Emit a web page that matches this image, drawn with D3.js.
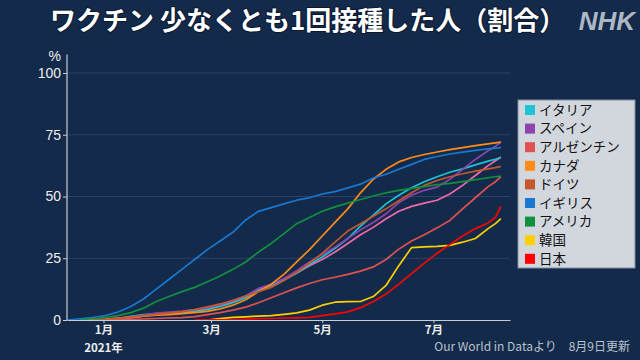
<!DOCTYPE html>
<html>
<head>
<meta charset="utf-8">
<script src="https://cdn.jsdelivr.net/npm/d3@7"></script>
<style>
  html, body { margin: 0; padding: 0; background: #132a4a; }
  svg { display: block; }
  text { font-family: "Noto Sans CJK JP", "Noto Sans", sans-serif; }
</style>
</head>
<body>
<svg id="chart" width="640" height="360"></svg>
<script>
// ---- data (percent of population with at least one dose) ----
const dates = ["2020-12-12","2020-12-19","2020-12-26","2021-01-02","2021-01-09","2021-01-16","2021-01-23","2021-01-30",
  "2021-02-06","2021-02-13","2021-02-20","2021-02-27","2021-03-06","2021-03-13","2021-03-20","2021-03-27",
  "2021-04-03","2021-04-10","2021-04-17","2021-04-24","2021-05-01","2021-05-08","2021-05-15","2021-05-22",
  "2021-05-29","2021-06-05","2021-06-12","2021-06-19","2021-06-26","2021-07-03","2021-07-10","2021-07-17",
  "2021-07-24","2021-07-31","2021-08-04","2021-08-07"];

const france    = [null,null,0.0,0.0,0.2,0.8,1.6,2.3,2.8,3.3,4.0,4.8,6.0,7.5,9.5,12,14,16.3,19,22,24.5,27.5,31,34.5,37.5,41,44,46,47.3,48.5,51,54.5,58.5,62.5,64.5,66];
const italy     = [null,null,0.0,0.1,0.6,1.5,2.2,2.5,2.7,3.0,3.5,4.2,5.5,7,9,12,14.2,16.2,19,22.5,25.5,29,33,38,42.5,47,50.5,53.5,56,58,59.8,61.2,62.8,64.3,65.1,65.8];
const spain     = [null,null,0.0,0.1,0.4,1.2,2.0,2.8,3.2,3.6,4.2,5.0,6.2,7.8,9.8,12.8,14.5,16.8,20,23.5,26.5,29.5,33,36.5,39.5,43,47.5,50.5,52.5,53.8,57,61,65,68.5,70.3,72];
const argentina = [null,null,null,0.05,0.1,0.2,0.4,0.6,0.8,1.0,1.4,2.2,3.0,4.0,5.2,7,9,11,13,14.8,16.3,17.3,18.5,19.8,21.5,24.5,28.7,32,34.5,37.3,40.3,45,49.5,54,56,58];
const canada    = [null,0.1,0.2,0.4,0.8,1.2,1.6,2.0,2.2,2.6,3.0,3.5,4.5,6.0,8.2,11.5,14.5,18.5,23.5,28.5,34,39.5,45,51.5,57,61,64,65.8,67,68,69,69.8,70.6,71.3,71.7,72];
const germany   = [null,null,0.0,0.3,0.7,1.2,1.8,2.3,2.8,3.4,4.2,5.3,6.5,8.0,9.7,11.5,13.2,16,19.3,23,27,31.5,36,39,42,45,48.3,51.5,54.5,56.5,58,59.2,60.3,61.2,61.7,62.2];
const uk        = [0,0.5,1.0,1.8,3.2,5.5,8.5,12.5,16.5,20.5,24.5,28.5,32,35.5,40.5,44,45.5,47,48.5,49.5,51,52,53.5,55,57.5,59,61,63,65,66.2,67.2,68,68.7,69.3,69.6,69.8];
const usa       = [null,0.1,0.5,1.0,1.8,3.0,4.8,7.5,9.5,11.5,13.2,15.5,17.8,20.5,23.5,27.5,31,35,39,41.5,44,45.8,47.3,48.8,50.2,51.5,52.5,53.3,54,54.8,55.3,56,56.8,57.6,58,58.3];
const korea     = [null,null,null,null,null,null,null,null,null,null,null,0.0,0.6,1.1,1.3,1.6,1.8,2.3,2.9,4.0,6.0,7.2,7.4,7.5,9.5,14,22,29.3,29.6,29.8,30.2,31.5,33,37,39,41];
const japan     = [null,null,null,null,null,null,null,null,null,null,0.0,0.02,0.05,0.1,0.3,0.5,0.6,0.8,0.9,1.1,1.8,2.5,3.3,5.0,7.5,10.5,14.5,18.8,23,27,30.5,34,37,39.3,41.5,46];

const seriesNames  = ["フランス","イタリア","スペイン","アルゼンチン","カナダ","ドイツ","イギリス","アメリカ","韓国","日本"];
const seriesValues = [france, italy, spain, argentina, canada, germany, uk, usa, korea, japan];
const seriesColors = ["#f06aa8","#1ec3d4","#8e44ad","#e05252","#ff8c1a","#c4582e","#1a78d2","#11913f","#ffd000","#ff0000"];
const legendNames  = ["イタリア","スペイン","アルゼンチン","カナダ","ドイツ","イギリス","アメリカ","韓国","日本"];

const yTicks = [0, 25, 50, 75, 100];
const xTickDates = ["2021-01-01","2021-03-01","2021-05-01","2021-07-01"];
const xDomain = ["2020-12-12","2021-08-12"];

const titleText = "ワクチン 少なくとも1回接種した人（割合）";
const sourceText = "Our World in Dataより　8月9日更新";

// ---- drawing ----
const parse = d3.timeParse("%Y-%m-%d");
const svg = d3.select("#chart");

const x = d3.scaleTime().domain(xDomain.map(parse)).range([67, 510]);
const y = d3.scaleLinear().domain([0, 100]).range([320, 73]);

// grid lines
svg.append("g")
  .selectAll("line")
  .data(yTicks.filter(d => d > 0))
  .join("line")
  .attr("x1", x.range()[0]).attr("x2", x.range()[1])
  .attr("y1", d => y(d)).attr("y2", d => y(d))
  .attr("stroke", "#2b4266").attr("stroke-width", 1);

// lines
const line = d3.line()
  .defined(d => d.v !== null)
  .x(d => x(d.date))
  .y(d => y(d.v))
  .curve(d3.curveLinear);

const parsedDates = dates.map(parse);
svg.append("g")
  .selectAll("path")
  .data(seriesValues.map((vals, i) => ({ color: seriesColors[i], pts: vals.map((v, j) => ({ date: parsedDates[j], v })) })))
  .join("path")
  .attr("fill", "none")
  .attr("stroke", d => d.color)
  .attr("stroke-width", 1.7)
  .attr("stroke-linejoin", "round")
  .attr("d", d => line(d.pts));

// y axis
const yAxis = svg.append("g")
  .attr("transform", `translate(${x.range()[0]},0)`)
  .call(d3.axisLeft(y).tickValues(yTicks).tickSize(4).tickSizeOuter(0).tickPadding(2));
yAxis.select(".domain").remove();
yAxis.selectAll(".tick line").attr("stroke", "#c8ccd4");
yAxis.selectAll(".tick text").attr("fill", "#eeeeee").attr("font-size", 14)
  .style("font-family", "'Liberation Sans', Arial, sans-serif");
svg.append("line")
  .attr("x1", x.range()[0]).attr("x2", x.range()[0])
  .attr("y1", y(0)).attr("y2", y(107.5))
  .attr("stroke", "#c8ccd4").attr("stroke-width", 1.2);
svg.append("text")
  .attr("x", x.range()[0] - 6).attr("y", y(107.5) + 7)
  .attr("text-anchor", "end")
  .attr("fill", "#eeeeee").attr("font-size", 14)
  .style("font-family", "'Liberation Sans', Arial, sans-serif")
  .text("%");

// x axis
const xAxis = svg.append("g")
  .attr("transform", `translate(0,${y(0)})`)
  .call(d3.axisBottom(x).tickValues(xTickDates.map(parse)).tickSize(3).tickSizeOuter(0).tickPadding(2)
    .tickFormat(d => (d.getMonth() + 1) + "月"));
xAxis.select(".domain").attr("stroke", "#c8ccd4").attr("stroke-width", 1.2);
xAxis.selectAll(".tick line").attr("stroke", "#c8ccd4");
xAxis.selectAll(".tick text").attr("fill", "#eeeeee").attr("font-size", 11.5).attr("font-weight", "bold").attr("dy", "0.8em");
svg.append("text")
  .attr("x", x(parse(xTickDates[0]))).attr("y", 352)
  .attr("text-anchor", "middle")
  .attr("fill", "#eeeeee").attr("font-size", 11.5).attr("font-weight", "bold")
  .text("2021年");

// legend
const lg = svg.append("g");
lg.append("rect")
  .attr("x", 518).attr("y", 100).attr("width", 117).attr("height", 168)
  .attr("fill", "#d2d7de").attr("stroke", "#7d8ba0").attr("stroke-width", 1);
const items = lg.selectAll("g.item")
  .data(legendNames)
  .join("g")
  .attr("class", "item")
  .attr("transform", (d, i) => `translate(525,${110 + i * 18.6})`);
items.append("rect")
  .attr("x", 0).attr("y", -5).attr("width", 10).attr("height", 10)
  .attr("fill", d => seriesColors[seriesNames.indexOf(d)]);
items.append("text")
  .attr("x", 14).attr("y", 0).attr("dy", "0.36em")
  .attr("fill", "#111").attr("font-size", 13.5)
  .text(d => d);

// title
svg.append("text")
  .attr("x", 50).attr("y", 30)
  .attr("fill", "#ffffff").attr("font-size", 26).attr("font-weight", "bold")
  .attr("stroke", "#0a1830").attr("stroke-width", 2).attr("paint-order", "stroke")
  .text(titleText);

// NHK logo
svg.append("text")
  .attr("x", 635).attr("y", 30)
  .attr("text-anchor", "end")
  .attr("fill", "rgba(235,240,245,0.72)")
  .attr("font-size", 26).attr("font-weight", "bold").attr("font-style", "italic")
  .style("font-family", "'Liberation Sans', Arial, sans-serif")
  .text("NHK");

// source
svg.append("text")
  .attr("x", 630).attr("y", 351)
  .attr("text-anchor", "end")
  .attr("fill", "#b9c2ce").attr("font-size", 12)
  .text(sourceText);
</script>
</body>
</html>
